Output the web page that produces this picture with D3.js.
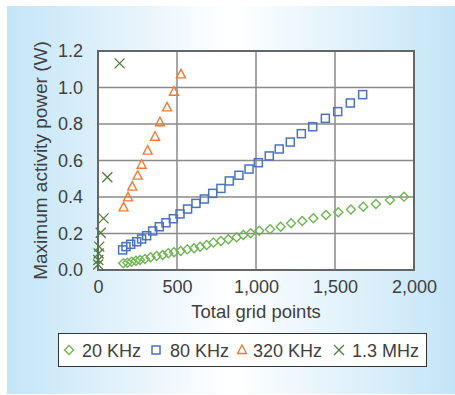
<!DOCTYPE html>
<html><head><meta charset="utf-8">
<script src="https://cdn.jsdelivr.net/npm/d3@7"></script>
<style>html,body{margin:0;padding:0;background:#fff;}svg{display:block;}</style>
</head><body>
<svg id="chart" width="455" height="395"></svg>
<script>
const seriesNames = ["20 KHz", "80 KHz", "320 KHz", "1.3 MHz"];
const xTicks = [0, 500, 1000, 1500, 2000];
const yTicks = [0, 0.2, 0.4, 0.6, 0.8, 1.0, 1.2];

const x20 = [160,186,213,240,266,297,333,371,409,445,481,523,565,608,646,688,730,778,825,877,920,966,1021,1089,1156,1222,1293,1363,1443,1521,1601,1679,1759,1848,1937];
const y20 = [0.037,0.040,0.045,0.051,0.055,0.060,0.070,0.077,0.082,0.092,0.097,0.104,0.113,0.119,0.128,0.137,0.150,0.159,0.168,0.179,0.192,0.201,0.215,0.223,0.237,0.256,0.268,0.283,0.301,0.316,0.332,0.347,0.362,0.384,0.402];

const x80 = [156,177,207,245,276,308,346,388,430,477,519,567,620,673,726,778,831,892,956,1015,1084,1147,1217,1287,1359,1439,1517,1597,1675];
const y80 = [0.110,0.128,0.141,0.155,0.170,0.188,0.214,0.237,0.259,0.281,0.307,0.334,0.365,0.389,0.420,0.447,0.488,0.519,0.553,0.588,0.625,0.663,0.701,0.747,0.785,0.831,0.868,0.915,0.961];

const x320 = [162,190,217,251,276,314,361,392,437,481,525];
const y320 = [0.343,0.398,0.457,0.517,0.577,0.654,0.730,0.810,0.891,0.977,1.072];

const x13 = [1,2,4,8,17,35,59,137];
const y13 = [0.030,0.055,0.090,0.128,0.204,0.283,0.508,1.132];

const svg = d3.select("#chart");
const font = "'Liberation Sans', Arial, sans-serif";
const txt = "#404040";

// background panel gradient
const defs = svg.append("defs");
const grad = defs.append("linearGradient").attr("id","bg").attr("x1","0").attr("x2","1").attr("y1","0").attr("y2","0");
grad.append("stop").attr("offset","0%").attr("stop-color","#c4e5f7");
grad.append("stop").attr("offset","50%").attr("stop-color","#ffffff");
grad.append("stop").attr("offset","100%").attr("stop-color","#c4e5f7");
svg.append("rect").attr("x",7).attr("y",6).attr("width",448).attr("height",388).attr("fill","url(#bg)");

const L = 98, R = 414, T = 51, B = 270;
const xs = d3.scaleLinear().domain([0,2000]).range([L,R]);
const ys = d3.scaleLinear().domain([0,1.2]).range([B,T]);

svg.append("rect").attr("x",L).attr("y",T).attr("width",R-L).attr("height",B-T).attr("fill","#fff");

// grid
const g = svg.append("g");
g.selectAll(".gx").data(xTicks.slice(1,-1)).enter().append("line")
  .attr("x1",d=>xs(d)).attr("x2",d=>xs(d)).attr("y1",T).attr("y2",B)
  .attr("stroke","#8a8a8a").attr("stroke-width",1.5);
g.selectAll(".gy").data(yTicks.slice(1,-1)).enter().append("line")
  .attr("x1",L).attr("x2",R).attr("y1",d=>ys(d)).attr("y2",d=>ys(d))
  .attr("stroke","#8a8a8a").attr("stroke-width",1.5);
svg.append("rect").attr("x",L).attr("y",T).attr("width",R-L).attr("height",B-T)
  .attr("fill","none").attr("stroke","#666").attr("stroke-width",2);

// axes via d3
const xAxis = d3.axisBottom(xs).tickValues(xTicks).tickSize(0).tickPadding(10).tickFormat(d3.format(","));
const yAxis = d3.axisLeft(ys).tickValues(yTicks).tickSize(0).tickPadding(15).tickFormat(d3.format(".1f"));
const gxA = svg.append("g").attr("transform",`translate(0,${B})`).call(xAxis);
const gyA = svg.append("g").attr("transform",`translate(${L},0)`).call(yAxis);
[gxA, gyA].forEach(a => {
  a.select(".domain").remove();
  a.selectAll("text").attr("font-family",font).attr("font-size",18).attr("fill",txt);
});

svg.append("text").attr("x",(L+R)/2).attr("y",318).attr("text-anchor","middle")
  .attr("font-family",font).attr("font-size",18.5).attr("fill",txt).text("Total grid points");
svg.append("text").attr("transform",`translate(47,${(T+B)/2}) rotate(-90)`).attr("text-anchor","middle")
  .attr("font-family",font).attr("font-size",19).attr("fill",txt).text("Maximum activity power (W)");

// markers
const colors = ["#6fb552","#4a72c0","#f07c32","#4f7d3a"];
function drawMarker(sel, type, color) {
  if (type === 0) {
    sel.append("path").attr("d","M0,-4.5L4.5,0L0,4.5L-4.5,0Z").attr("fill","none").attr("stroke",color).attr("stroke-width",1.4);
  } else if (type === 1) {
    sel.append("rect").attr("x",-4).attr("y",-4).attr("width",8).attr("height",8).attr("fill","none").attr("stroke",color).attr("stroke-width",1.5);
  } else if (type === 2) {
    sel.append("path").attr("d","M0,-5L4.5,3.5L-4.5,3.5Z").attr("fill","none").attr("stroke",color).attr("stroke-width",1.4);
  } else {
    sel.append("path").attr("d","M-5,-5L5,5M-5,5L5,-5").attr("fill","none").attr("stroke",color).attr("stroke-width",1.3);
  }
}
const series = [[x20,y20],[x80,y80],[x320,y320],[x13,y13]];
series.forEach((s,i) => {
  const pts = s[0].map((xv,j)=>[xv,s[1][j]]);
  const grp = svg.append("g");
  grp.selectAll("g").data(pts).enter().append("g")
    .attr("transform",d=>`translate(${xs(d[0])},${ys(d[1])})`)
    .each(function(){ drawMarker(d3.select(this), i, colors[i]); });
});

// legend
svg.append("rect").attr("x",58.5).attr("y",333.5).attr("width",368).attr("height",33)
  .attr("fill","#fff").attr("stroke","#333").attr("stroke-width",1);
const legX = [69,156,242,339];
const legTX = [82,170,253,352];
seriesNames.forEach((n,i) => {
  const m = svg.append("g").attr("transform",`translate(${legX[i]},350)`);
  drawMarker(m, i, colors[i]);
  svg.append("text").attr("x",legTX[i]).attr("y",357).attr("font-family",font).attr("font-size",18).attr("fill",txt).text(n);
});
</script>
</body></html>
